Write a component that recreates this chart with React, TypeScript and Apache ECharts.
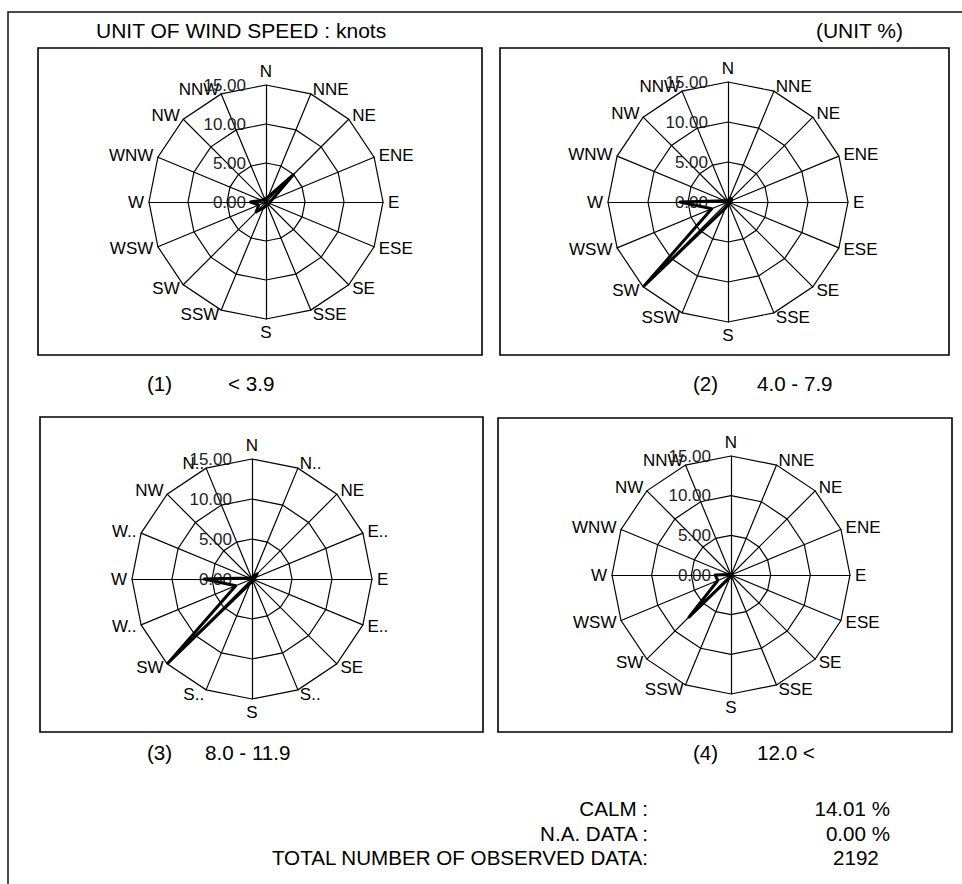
import React, { useEffect, useRef } from 'react';
import * as echarts from 'echarts';

// Compass directions, clockwise from north
const directions = ['N', 'NNE', 'NE', 'ENE', 'E', 'ESE', 'SE', 'SSE', 'S', 'SSW', 'SW', 'WSW', 'W', 'WNW', 'NW', 'NNW'];
// Panel (3) shows truncated direction names
const directionsShort = ['N', 'N..', 'NE', 'E..', 'E', 'E..', 'SE', 'S..', 'S', 'S..', 'SW', 'W..', 'W', 'W..', 'NW', 'N..'];

const panelNumbers = ['(1)', '(2)', '(3)', '(4)'];
const speedClasses = ['< 3.9', '4.0 - 7.9', '8.0 - 11.9', '12.0 <'];

// Frequency (%) per direction, clockwise from N
const freqBelow39 = [0.6, 0.7, 4.9, 0.9, 0.5, 0.4, 0.4, 0.4, 0.5, 0.8, 1.8, 1.0, 2.0, 0.6, 0.4, 0.4];
const freq40to79 = [0.3, 0.4, 0.6, 0.5, 0.3, 0.2, 0.2, 0.2, 0.3, 0.8, 14.8, 2.2, 6.0, 0.4, 0.2, 0.2];
const freq80to119 = [0.2, 0.3, 0.9, 0.4, 0.3, 0.2, 0.2, 0.2, 0.3, 0.6, 14.8, 2.2, 6.0, 0.3, 0.2, 0.2];
const freqAbove12 = [0.1, 0.1, 0.2, 0.1, 0.1, 0.1, 0.1, 0.1, 0.1, 0.3, 7.5, 1.8, 2.0, 0.2, 0.1, 0.1];

const axisMin = 0;
const axisMax = 15;
const axisSplits = 3;

const summaryLabels = ['CALM :', 'N.A. DATA :', 'TOTAL NUMBER OF OBSERVED DATA:'];
const summaryValues = ['14.01 %', '0.00 %', '2192'];

const FONT = '"Liberation Sans", Arial, Helvetica, sans-serif';

const panelData = [freqBelow39, freq40to79, freq80to119, freqAbove12];
const panelNames = [directions, directions, directionsShort, directions];

// layout
const panelLayout = [
  { cx: 266, cy: 202, r: 117, box: [38, 48, 444, 307], ly: 383, nx: 147, cx2: 228 },
  { cx: 728, cy: 202, r: 120, box: [500, 48, 449, 307], ly: 383, nx: 693, cx2: 757 },
  { cx: 252, cy: 579, r: 120, box: [40, 417, 443, 315], ly: 752, nx: 147, cx2: 205 },
  { cx: 731, cy: 575, r: 119, box: [498, 418, 454, 314], ly: 752, nx: 693, cx2: 757 },
];

// ECharts radar goes counter-clockwise; reorder so that directions go clockwise
const ccwOrder = directions.map((_, k) => (16 - k) % 16);

export default function App() {
  const ref = useRef<HTMLDivElement>(null);

  useEffect(() => {
    if (!ref.current) return;
    const chart = echarts.init(ref.current, null, { renderer: 'svg' });

    const radar = panelLayout.map((p, pi) => ({
      center: [p.cx, p.cy],
      radius: p.r,
      startAngle: 90,
      shape: 'polygon',
      splitNumber: axisSplits,
      nameGap: 5,
      indicator: ccwOrder.map((i, k) => {
        const ind: any = { name: panelNames[pi][i], min: axisMin, max: axisMax };
        if (k === 0) ind.axisLabel = { show: true };
        return ind;
      }),
      axisName: { color: '#000', fontSize: 17, fontFamily: FONT },
      axisLine: { show: true, lineStyle: { color: '#000', width: 1.2 } },
      splitLine: { show: true, lineStyle: { color: '#000', width: 1.2 } },
      splitArea: { show: false },
      axisTick: { show: false },
      axisLabel: {
        show: false,
        color: '#222',
        fontSize: 17,
        fontFamily: FONT,
        margin: 20,
        formatter: (v: number) => Number(v).toFixed(2),
      },
    }));

    const series = panelData.map((d, pi) => ({
      type: 'radar',
      radarIndex: pi,
      symbol: 'none',
      silent: true,
      lineStyle: { color: '#000', width: 3 },
      data: [{ value: ccwOrder.map((i) => d[i]) }],
    }));

    const txt = (text: string, x: number, y: number, align: string = 'left', size = 20.6) => ({
      type: 'text',
      x,
      y,
      silent: true,
      style: { text, fill: '#000', fontSize: size, fontFamily: FONT, align, verticalAlign: 'middle' },
    });

    const graphics: any[] = [];
    graphics.push({
      type: 'rect',
      shape: { x: 8, y: 12, width: 980, height: 900 },
      style: { fill: 'none', stroke: '#111', lineWidth: 1.5 },
      silent: true,
    });
    panelLayout.forEach((p, pi) => {
      graphics.push({
        type: 'rect',
        shape: { x: p.box[0], y: p.box[1], width: p.box[2], height: p.box[3] },
        style: { fill: 'none', stroke: '#000', lineWidth: 1.6 },
        silent: true,
      });
      graphics.push(txt(panelNumbers[pi], p.nx, p.ly));
      graphics.push(txt(speedClasses[pi], p.cx2, p.ly));
    });
    graphics.push(txt('UNIT OF WIND SPEED : knots', 96, 30, 'left', 21));
    graphics.push(txt('(UNIT %)', 903, 30, 'right', 21));
    const sy = [808, 833, 857];
    summaryLabels.forEach((s, i) => graphics.push(txt(s, 648, sy[i], 'right')));
    graphics.push(txt(summaryValues[0], 890, sy[0], 'right'));
    graphics.push(txt(summaryValues[1], 890, sy[1], 'right'));
    graphics.push(txt(summaryValues[2], 833, sy[2], 'left'));

    chart.setOption({
      animation: false,
      backgroundColor: '#fff',
      radar,
      series,
      graphic: { elements: graphics },
    } as any);

    return () => chart.dispose();
  }, []);

  return (
    <div
      ref={ref}
      style={{ position: 'absolute', left: 0, top: 0, width: 962, height: 884, background: '#fff' }}
    />
  );
}
